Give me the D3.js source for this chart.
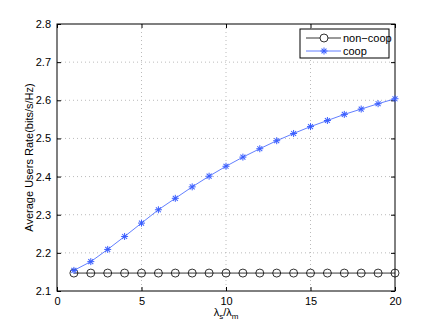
<!DOCTYPE html>
<html>
<head>
<meta charset="utf-8">
<script src="https://cdn.jsdelivr.net/npm/d3@7"></script>
<style>
  body { margin: 0; background: #fff; }
  svg { font-family: "Liberation Sans", Arial, sans-serif; }
</style>
</head>
<body>
<div id="chart"></div>
<script>
// data
var ratio = d3.range(1, 21);
var nonCoop = [2.147, 2.147, 2.147, 2.147, 2.147, 2.147, 2.147, 2.147, 2.147, 2.147,
               2.147, 2.147, 2.147, 2.147, 2.147, 2.147, 2.147, 2.147, 2.147, 2.147];
var coop = [2.154, 2.177, 2.209, 2.243, 2.278, 2.313, 2.343, 2.373, 2.401, 2.427,
            2.451, 2.473, 2.494, 2.513, 2.531, 2.547, 2.563, 2.577, 2.591, 2.604];
var xTicks = [0, 5, 10, 15, 20];
var yTicks = [2.1, 2.2, 2.3, 2.4, 2.5, 2.6, 2.7, 2.8];

var margin = {top: 24, right: 41, bottom: 37, left: 57},
    width = 436 - margin.left - margin.right,
    height = 328 - margin.top - margin.bottom;

var svg = d3.select("#chart").append("svg")
    .attr("width", 436)
    .attr("height", 328)
  .append("g")
    .attr("transform", "translate(" + margin.left + "," + margin.top + ")");

var x = d3.scaleLinear().domain([0, 20]).range([0, width]);
var y = d3.scaleLinear().domain([2.1, 2.8]).range([height, 0]);

// grid
svg.selectAll(".gx").data(xTicks.slice(1, -1)).enter().append("line")
    .attr("x1", function(d) { return x(d); }).attr("x2", function(d) { return x(d); })
    .attr("y1", 0).attr("y2", height)
    .style("stroke", "#aaa").style("stroke-width", 0.8).style("stroke-dasharray", "1,3");
svg.selectAll(".gy").data(yTicks.slice(1, -1)).enter().append("line")
    .attr("y1", function(d) { return y(d); }).attr("y2", function(d) { return y(d); })
    .attr("x1", 0).attr("x2", width)
    .style("stroke", "#aaa").style("stroke-width", 0.8).style("stroke-dasharray", "1,3");

// axes with inward ticks on all sides
function styleAxis(g) {
  g.select(".domain").remove();
  g.selectAll("line").style("stroke", "#000");
  g.selectAll("text").style("font-size", "11px").style("fill", "#000");
}
svg.append("g").attr("transform", "translate(0," + height + ")")
    .call(d3.axisBottom(x).tickValues(xTicks).tickSize(-4).tickPadding(6).tickFormat(d3.format("d")))
    .call(styleAxis);
svg.append("g")
    .call(d3.axisTop(x).tickValues(xTicks).tickSize(-4).tickFormat(""))
    .call(styleAxis);
svg.append("g")
    .call(d3.axisLeft(y).tickValues(yTicks).tickSize(-4).tickPadding(6).tickFormat(d3.format(".1f")))
    .call(styleAxis);
svg.append("g").attr("transform", "translate(" + width + ",0)")
    .call(d3.axisRight(y).tickValues(yTicks).tickSize(-4).tickFormat(""))
    .call(styleAxis);

svg.append("rect")
    .attr("width", width).attr("height", height)
    .style("fill", "none").style("stroke", "#000").style("stroke-width", 1);

// lines
var line = d3.line()
    .x(function(d, i) { return x(ratio[i]); })
    .y(function(d) { return y(d); });

svg.append("path").datum(nonCoop)
    .attr("d", line).style("fill", "none").style("stroke", "#000").style("stroke-width", 0.8);
svg.selectAll(".circ").data(nonCoop).enter().append("circle")
    .attr("cx", function(d, i) { return x(ratio[i]); })
    .attr("cy", function(d) { return y(d); })
    .attr("r", 4)
    .style("fill", "none").style("stroke", "#000").style("stroke-width", 0.8);

svg.append("path").datum(coop)
    .attr("d", line).style("fill", "none").style("stroke", "#3a5eff").style("stroke-width", 0.8);

function drawStar(sel) {
  sel.each(function() {
    var g = d3.select(this);
    [0, 45, 90, 135].forEach(function(a) {
      g.append("line")
        .attr("x1", -3.5).attr("x2", 3.5).attr("y1", 0).attr("y2", 0)
        .attr("transform", "rotate(" + a + ")")
        .style("stroke", "#3a5eff").style("stroke-width", 1);
    });
  });
}
svg.selectAll(".star").data(coop).enter().append("g")
    .attr("transform", function(d, i) { return "translate(" + x(ratio[i]) + "," + y(d) + ")"; })
    .call(drawStar);

// legend
var lg = svg.append("g").attr("transform", "translate(" + (300 - margin.left) + "," + (29 - margin.top) + ")");
lg.append("rect").attr("width", 89).attr("height", 29)
    .style("fill", "#fff").style("stroke", "#000").style("stroke-width", 1);
lg.append("line").attr("x1", 6).attr("x2", 41).attr("y1", 9).attr("y2", 9)
    .style("stroke", "#000").style("stroke-width", 0.8);
lg.append("circle").attr("cx", 24).attr("cy", 9).attr("r", 4)
    .style("fill", "#fff").style("stroke", "#000").style("stroke-width", 0.8);
lg.append("line").attr("x1", 6).attr("x2", 41).attr("y1", 22).attr("y2", 22)
    .style("stroke", "#3a5eff").style("stroke-width", 0.8);
lg.append("g").attr("transform", "translate(24,22)").call(drawStar);
lg.append("text").attr("x", 43).attr("y", 13).style("font-size", "11px").text("non\u2212coop");
lg.append("text").attr("x", 43).attr("y", 26).style("font-size", "11px").text("coop");

// axis labels
svg.append("text")
    .attr("transform", "rotate(-90)")
    .attr("x", -height / 2).attr("y", -24)
    .style("text-anchor", "middle").style("font-size", "11px")
    .text("Average Users Rate(bits/s/Hz)");

var xl = svg.append("text")
    .attr("x", width / 2).attr("y", height + 25)
    .style("text-anchor", "middle").style("font-size", "11px");
xl.append("tspan").text("\u03bb");
xl.append("tspan").attr("dy", 3).style("font-size", "8px").text("s");
xl.append("tspan").attr("dy", -3).text("/\u03bb");
xl.append("tspan").attr("dy", 3).style("font-size", "8px").text("m");
</script>
</body>
</html>
